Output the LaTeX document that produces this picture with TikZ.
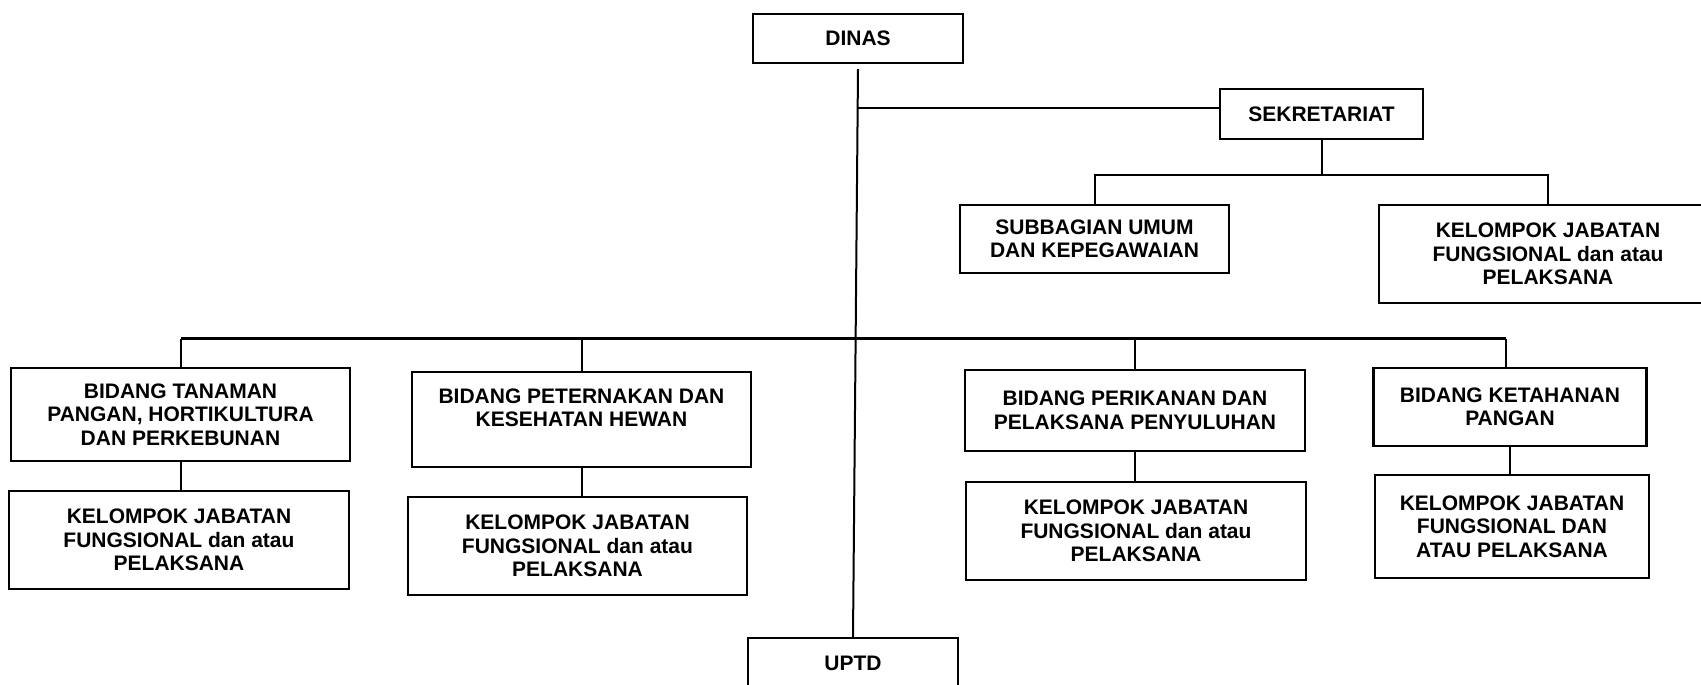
\documentclass[tikz,border=0pt]{standalone}
\usepackage{fontspec}
\setmainfont{Liberation Sans}
\begin{document}
\begin{tikzpicture}[x=1pt,y=-1pt,
  orgbox/.style={draw=black, line width=2.3pt, inner sep=0pt, align=center,
    font=\fontsize{21}{23.5}\selectfont\bfseries},
  conn/.style={line width=2pt, draw=black},
  mainbar/.style={line width=3pt, draw=black},
  sekbar/.style={line width=2.6pt, draw=black}]
\useasboundingbox (0,0) rectangle (1701,685);
\clip (0,0) rectangle (1701,685);
\fill[white] (0,0) rectangle (1701,685);

% nodes
\node[orgbox, minimum width=210pt, minimum height=49pt] (dinas) at (858,38.5) {DINAS};
\node[orgbox, minimum width=203pt, minimum height=50pt] (sek) at (1321.5,114) {SEKRETARIAT};
\node[orgbox, minimum width=269pt, minimum height=68pt] (subb) at (1094.5,239) {SUBBAGIAN UMUM\\DAN KEPEGAWAIAN};
\node[orgbox, minimum width=338pt, minimum height=98pt] (kr) at (1548,254) {KELOMPOK JABATAN\\FUNGSIONAL dan atau\\PELAKSANA};

\node[orgbox, minimum width=339pt, minimum height=93pt] (bt) at (180.5,414.5) {BIDANG TANAMAN\\PANGAN, HORTIKULTURA\\DAN PERKEBUNAN};
\node[orgbox, minimum width=340pt, minimum height=98pt] (k1) at (179,540) {KELOMPOK JABATAN\\FUNGSIONAL dan atau\\PELAKSANA};

\node[orgbox, minimum width=339pt, minimum height=95pt] (bp) at (581.5,419.5) {BIDANG PETERNAKAN DAN\\KESEHATAN HEWAN\\\mbox{}};
\node[orgbox, minimum width=339pt, minimum height=98pt] (k2) at (577.5,546) {KELOMPOK JABATAN\\FUNGSIONAL dan atau\\PELAKSANA};

\node[orgbox, minimum width=340pt, minimum height=81pt] (bk) at (1135,410.5) {BIDANG PERIKANAN DAN\\PELAKSANA PENYULUHAN};
\node[orgbox, minimum width=340pt, minimum height=98pt] (k3) at (1136,531) {KELOMPOK JABATAN\\FUNGSIONAL dan atau\\PELAKSANA};

\node[orgbox, minimum width=273pt, minimum height=78pt] (bkh) at (1510,407) {BIDANG KETAHANAN\\PANGAN};
\node[orgbox, minimum width=274pt, minimum height=103pt] (k4) at (1512,526.5) {KELOMPOK JABATAN\\FUNGSIONAL DAN\\ATAU PELAKSANA};

\node[orgbox, minimum width=210pt, minimum height=50pt] (uptd) at (853,663) {UPTD};

% helper coordinates
\coordinate (d0) at ([yshift=-5pt]dinas.south);
\coordinate (sj) at ([yshift=6pt]sek.west);
\path (subb.north) ++(0,-29) coordinate (sbar);
\path (bt.north) ++(0,-28) coordinate (mL);
\coordinate (bkhn) at ([xshift=-4pt]bkh.north);

% connectors
\draw[conn] (d0) -- (uptd.north);
\draw[sekbar] (d0 |- sj) -- (sj);
\draw[conn] (sek.south) -- (sek.south |- sbar);
\draw[conn] (subb.north) -- (sbar) -| (kr.north);

\draw[mainbar] (mL) -- (mL -| bkhn);
\draw[conn] (mL) -- (bt.north);
\draw[conn] (mL -| bp.north) -- (bp.north);
\draw[conn] (mL -| bk.north) -- (bk.north);
\draw[conn] (mL -| bkhn) -- (bkhn);

\draw[conn] (bt.south) -- (bt.south |- k1.north);
\draw[conn] (bp.south) -- (bp.south |- k2.north);
\draw[conn] (bk.south) -- (bk.south |- k3.north);
\draw[conn] (bkh.south) -- (bkh.south |- k4.north);
\end{tikzpicture}
\end{document}
